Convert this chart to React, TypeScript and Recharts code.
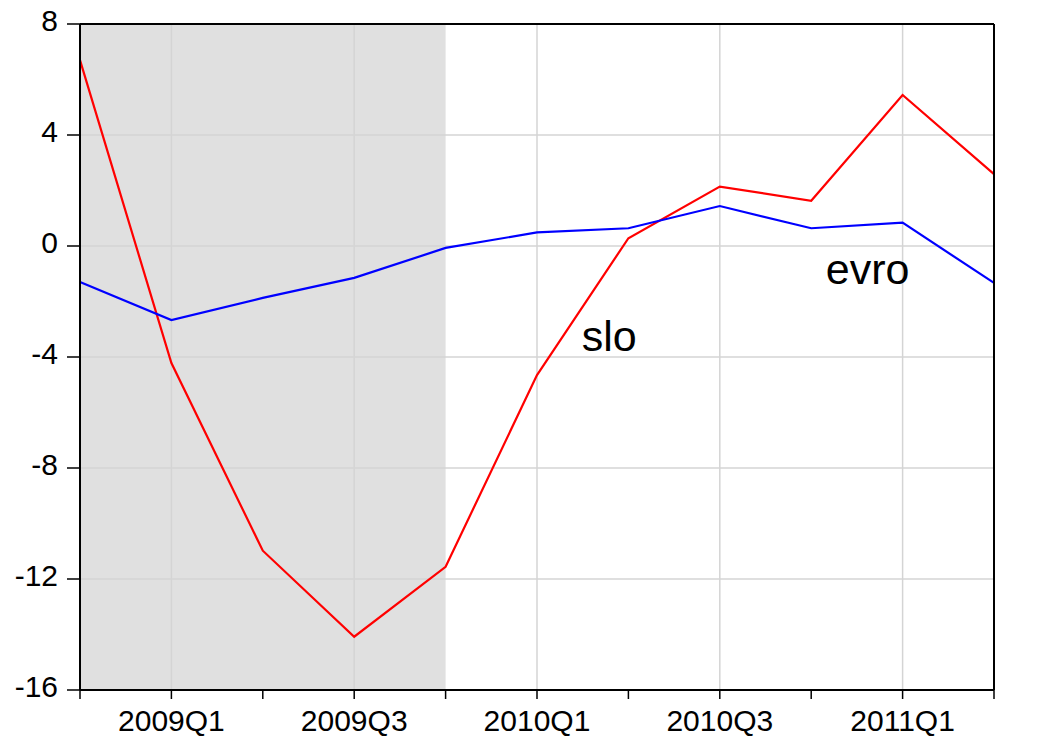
import { LineChart, Line, XAxis, YAxis, ReferenceArea, ReferenceLine, ReferenceDot } from 'recharts';

const quarters = ['2008Q4', '2009Q1', '2009Q2', '2009Q3', '2009Q4', '2010Q1', '2010Q2', '2010Q3', '2010Q4', '2011Q1', '2011Q2'];
const slo = [6.7, -4.22, -10.98, -14.08, -11.56, -4.65, 0.28, 2.14, 1.63, 5.44, 2.59];
const evro = [-1.3, -2.67, -1.87, -1.15, -0.07, 0.49, 0.64, 1.44, 0.64, 0.84, -1.33];
const yTicks = [-16, -12, -8, -4, 0, 4, 8];
const labeledQuarters = ['2009Q1', '2009Q3', '2010Q1', '2010Q3', '2011Q1'];

const data = quarters.map((q, i) => ({ idx: i, q, slo: slo[i], evro: evro[i] }));

const FONT = '"Liberation Sans", Arial, sans-serif';
const GRID = '#d4d4d4';
const TICK_SIZE = 30;

const xLabel = (i: number) => (labeledQuarters.includes(quarters[i]) ? quarters[i] : '');

const XTick = (p: any) => (
    <text x={p.x} y={p.y} textAnchor="middle" dy={18} fontFamily={FONT} fontSize={TICK_SIZE} fill="#000">
        {xLabel(p.payload.value)}
    </text>
);

const YTick = (p: any) => (
    <text x={p.x} y={p.y} textAnchor={p.textAnchor} dy={TICK_SIZE * 0.355 - 4} fontFamily={FONT} fontSize={TICK_SIZE} fill="#000">
        {p.payload.value}
    </text>
);

const SeriesText = ({ cx, cy, text }: { cx?: number; cy?: number; text: string }) => (
    <text x={cx} y={cy} fontFamily={FONT} fontSize={43} fill="#000">
        {text}
    </text>
);

const App = () => {
    return (
        <div style={{ position: 'absolute', left: 0, top: 0, background: '#fff' }}>
            <LineChart width={1062} height={738} data={data} margin={{ top: 24, right: 0, left: 0, bottom: 0 }}>
                <XAxis
                    dataKey="idx"
                    type="number"
                    domain={[0, quarters.length - 1]}
                    ticks={quarters.map((_, i) => i)}
                    height={48}
                    tickSize={9}
                    tickMargin={14}
                    interval={0}
                    axisLine={{ stroke: '#000', strokeWidth: 2 }}
                    tickLine={{ stroke: '#000', strokeWidth: 1.5 }}
                    tick={<XTick />}
                />
                <YAxis
                    yAxisId="left"
                    domain={[-16, 8]}
                    ticks={yTicks}
                    width={80}
                    tickSize={13}
                    tickMargin={9}
                    interval={0}
                    axisLine={{ stroke: '#000', strokeWidth: 2 }}
                    tickLine={{ stroke: '#000', strokeWidth: 1.5 }}
                    tick={<YTick />}
                />
                <YAxis
                    yAxisId="right"
                    orientation="right"
                    domain={[-16, 8]}
                    ticks={yTicks}
                    width={68}
                    tickSize={14}
                    tickMargin={8}
                    interval={0}
                    axisLine={{ stroke: '#000', strokeWidth: 2 }}
                    tickLine={{ stroke: '#000', strokeWidth: 1.5 }}
                    tick={<YTick />}
                />
                <ReferenceArea yAxisId="left" x1={0} x2={4} y1={-16} y2={8} fill="#e0e0e0" fillOpacity={1} stroke="none" />
                {labeledQuarters.map((q) => (
                    <ReferenceLine key={q} yAxisId="left" x={quarters.indexOf(q)} stroke={GRID} strokeWidth={1.5} />
                ))}
                {yTicks.slice(1, -1).map((v) => (
                    <ReferenceLine key={v} yAxisId="left" y={v} stroke={GRID} strokeWidth={1.5} />
                ))}
                <ReferenceLine yAxisId="left" y={8} stroke="#000" strokeWidth={2} />
                <Line yAxisId="left" dataKey="slo" stroke="#ff0000" strokeWidth={2.2} dot={false} isAnimationActive={false} />
                <Line yAxisId="left" dataKey="evro" stroke="#0000ff" strokeWidth={2.2} dot={false} isAnimationActive={false} />
                <ReferenceDot yAxisId="left" x={5.49} y={-3.78} r={0} shape={(p: any) => <SeriesText cx={p.cx} cy={p.cy} text="slo" />} />
                <ReferenceDot yAxisId="left" x={8.16} y={-1.37} r={0} shape={(p: any) => <SeriesText cx={p.cx} cy={p.cy} text="evro" />} />
            </LineChart>
        </div>
    );
};

export default App;
